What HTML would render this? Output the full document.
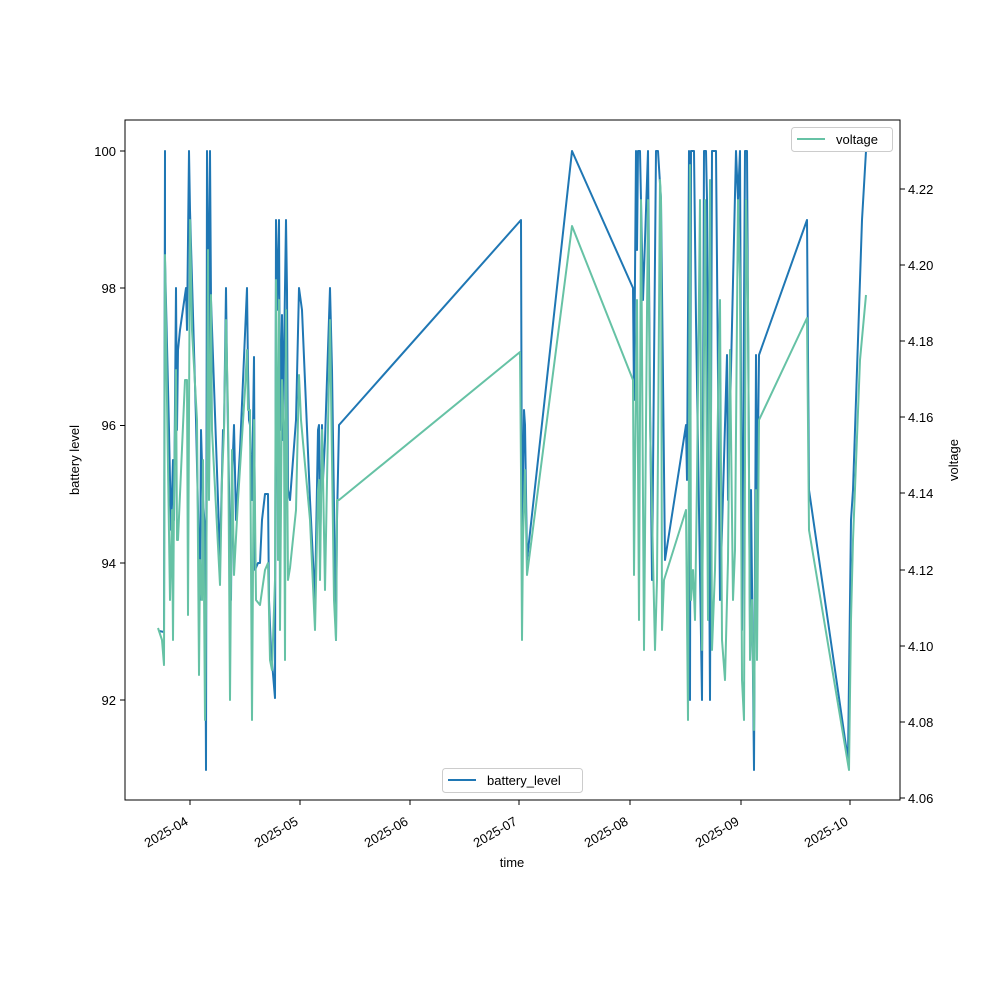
<!DOCTYPE html>
<html><head><meta charset="utf-8"><style>body{margin:0;background:#fff}</style></head><body>
<svg width="1000" height="1000" viewBox="0 0 1000 1000" xmlns="http://www.w3.org/2000/svg" font-family="Liberation Sans, sans-serif" font-size="13">
<rect width="1000" height="1000" fill="#fff"/>
<defs><clipPath id="c"><rect x="125" y="120" width="775" height="680"/></clipPath></defs>
<g clip-path="url(#c)" fill="none" stroke-width="2" stroke-linejoin="round">
<polyline stroke="#1f77b4" points="159,631 164,632 165,151 165,260 169,430 171,530 172,495 173,460 174,520 176,288 177,430 178,350 180,330 186,288 187,330 189,151 190,210 196,420 200,600 201,430 203,500 205,530 206,770 207,151 208,230 209,450 210,151 211,300 218,500 220,560 223,430 224,430 226,288 227,370 228,430 231,600 232,480 234,425 236,520 240,450 247,288 248,370 249,420 250,425 251,470 252,500 254,357 255,570 258,563 260,563 262,520 265,494 268,494 269,600 271,650 275,698 276,220 277,310 279,220 280,430 282,315 283,440 284,356 286,220 287,290 288,490 290,500 296,420 299,288 302,310 310,500 315,600 318,430 319,425 320,560 322,425 323,480 325,440 330,288 332,370 336,640 337,520 339,425 521,220 522,560 523,480 524,410 525,425 527,560 572,151 633,288 634,400 636,151 637,250 638,151 640,151 643,300 648,151 650,400 652,580 656,151 658,151 661,200 665,560 686,425 687,480 689,151 690,700 691,151 694,151 696,320 702,700 704,151 706,151 707,200 710,700 712,151 716,151 720,600 727,355 728,500 736,151 738,200 740,151 742,630 745,151 747,151 750,630 751,490 754,770 756,355 757,520 759,355 807,220 809,490 848,760 851,520 853,490 862,220 866,151"/>
<polyline stroke="#66c2a5" points="158,628 162,640 164,665 165,255 167,400 170,600 172,510 173,640 174,500 176,370 177,540 178,540 185,380 187,380 188,615 190,220 192,330 197,420 199,675 200,560 202,600 203,460 205,720 206,610 207,470 208,250 209,500 211,295 212,430 220,585 222,480 224,430 226,320 228,410 230,700 232,450 234,575 238,500 245,390 247,350 248,410 250,410 252,720 254,420 256,600 260,605 265,570 268,563 270,660 272,670 275,580 276,280 277,400 278,560 279,300 280,630 282,380 284,430 285,660 286,310 288,580 290,568 296,510 299,375 301,420 310,520 315,630 318,490 319,480 320,580 322,430 323,475 325,590 330,320 334,600 336,640 337,500 339,500 520,352 521,470 522,640 523,540 525,470 527,575 572,226 633,380 634,575 635,470 637,300 639,620 641,200 644,650 648,200 650,420 655,650 657,580 660,180 661,200 662,630 664,580 686,510 688,720 690,165 691,600 693,570 695,620 697,480 700,200 702,650 705,200 708,620 710,180 712,650 715,570 720,300 722,640 725,680 728,560 730,350 733,600 735,550 738,200 740,280 742,680 744,720 746,200 748,300 750,660 752,600 754,730 756,490 757,660 759,420 807,318 809,530 849,770 851,620 853,540 860,360 866,295"/>
</g>
<rect x="125" y="120" width="775" height="680" fill="none" stroke="#000" stroke-width="1"/>
<g stroke="#000">
<line x1="120" x2="125" y1="151" y2="151"/><line x1="120" x2="125" y1="288" y2="288"/><line x1="120" x2="125" y1="425.5" y2="425.5"/><line x1="120" x2="125" y1="563" y2="563"/><line x1="120" x2="125" y1="700" y2="700"/>
<line x1="900" x2="905" y1="189" y2="189"/><line x1="900" x2="905" y1="265" y2="265"/><line x1="900" x2="905" y1="341" y2="341"/><line x1="900" x2="905" y1="417" y2="417"/><line x1="900" x2="905" y1="493" y2="493"/><line x1="900" x2="905" y1="570" y2="570"/><line x1="900" x2="905" y1="646" y2="646"/><line x1="900" x2="905" y1="722" y2="722"/><line x1="900" x2="905" y1="798" y2="798"/>
<line x1="190" x2="190" y1="800" y2="805"/><line x1="300" x2="300" y1="800" y2="805"/><line x1="410" x2="410" y1="800" y2="805"/><line x1="519" x2="519" y1="800" y2="805"/><line x1="630" x2="630" y1="800" y2="805"/><line x1="741" x2="741" y1="800" y2="805"/><line x1="850" x2="850" y1="800" y2="805"/>
</g>
<g text-anchor="end">
<text x="116" y="156">100</text><text x="116" y="293">98</text><text x="116" y="430">96</text><text x="116" y="568">94</text><text x="116" y="705">92</text>
</g>
<g>
<text x="908" y="194">4.22</text><text x="908" y="270">4.20</text><text x="908" y="346">4.18</text><text x="908" y="422">4.16</text><text x="908" y="498">4.14</text><text x="908" y="575">4.12</text><text x="908" y="651">4.10</text><text x="908" y="727">4.08</text><text x="908" y="803">4.06</text>
</g>
<g text-anchor="end">
<text transform="translate(189,824) rotate(-30)">2025-04</text>
<text transform="translate(299,824) rotate(-30)">2025-05</text>
<text transform="translate(409,824) rotate(-30)">2025-06</text>
<text transform="translate(518,824) rotate(-30)">2025-07</text>
<text transform="translate(629,824) rotate(-30)">2025-08</text>
<text transform="translate(740,824) rotate(-30)">2025-09</text>
<text transform="translate(849,824) rotate(-30)">2025-10</text>
</g>
<text x="512" y="867" text-anchor="middle">time</text>
<text transform="translate(79,460) rotate(-90)" text-anchor="middle">battery level</text>
<text transform="translate(958,460) rotate(-90)" text-anchor="middle">voltage</text>
<rect x="791.5" y="127.5" width="101" height="24" rx="3" fill="#fff" stroke="#ccc"/>
<line x1="797" x2="825" y1="139" y2="139" stroke="#66c2a5" stroke-width="2"/>
<text x="836" y="144">voltage</text>
<rect x="442.5" y="768.5" width="140" height="24" rx="3" fill="#fff" stroke="#ccc"/>
<line x1="448" x2="476" y1="780" y2="780" stroke="#1f77b4" stroke-width="2"/>
<text x="487" y="785">battery_level</text>
</svg>
</body></html>
